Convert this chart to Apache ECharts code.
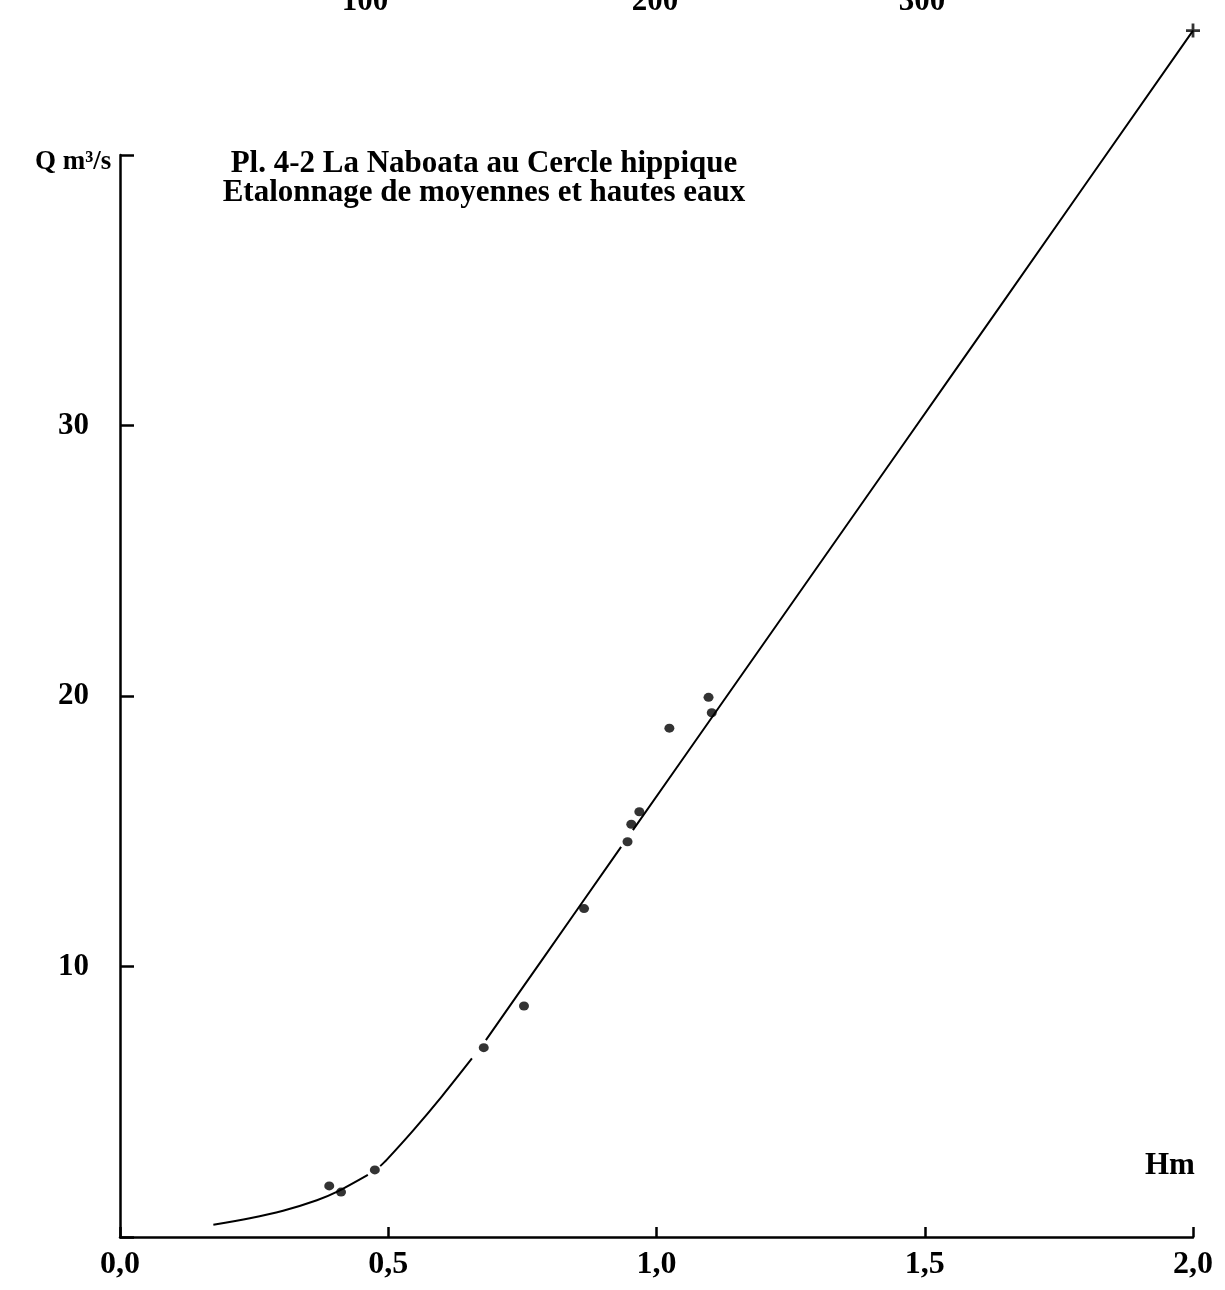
<!DOCTYPE html>
<html>
<head>
<meta charset="utf-8">
<script src="https://cdn.jsdelivr.net/npm/echarts@6/dist/echarts.min.js"></script>
<style>
html,body{margin:0;padding:0;background:#fff;}
#chart{width:1225px;height:1290px;}
</style>
</head>
<body>
<div id="chart"></div>
<script>
// Tick values
const xTicks = [0, 0.5, 1.0, 1.5, 2.0];
const yTicks = [0, 10, 20, 30, 40];
const topPartialLabels = ['100', '200', '300'];

// Measured gaugings (H m, Q m3/s)
const gaugings = [
  [0.390, 1.89], [0.412, 1.66], [0.475, 2.48], [0.678, 7.00],
  [0.753, 8.54], [0.865, 12.14], [0.946, 14.61], [0.953, 15.26],
  [0.968, 15.72], [1.024, 18.81], [1.097, 19.95], [1.103, 19.38]
];

// Rating curve, drawn in pieces (gaps as in the original)
const curve1 = [[0.174, 0.45], [0.242, 0.69], [0.304, 0.97], [0.367, 1.36], [0.404, 1.67], [0.462, 2.30]];
const curve2 = [[0.485, 2.62], [0.497, 2.85], [0.547, 3.95], [0.600, 5.20], [0.656, 6.60]];
const curve3 = [[0.682, 7.28], [0.790, 10.34], [0.934, 14.42]];
const curve4 = [[0.956, 15.04], [1.109, 19.37], [1.454, 29.13], [1.643, 34.48], [2.0, 44.6]];

const serif = '"Liberation Serif", "DejaVu Serif", serif';
const fmtX = v => v.toFixed(1).replace('.', ',');

const chart = echarts.init(document.getElementById('chart'), null, {renderer: 'canvas'});

function curveSeries(d) {
  return {
    type: 'line', data: d, showSymbol: false, symbol: 'none', smooth: 0.3, clip: false,
    lineStyle: {color: '#000', width: 2}, silent: true, z: 2
  };
}

chart.setOption({
  animation: false,
  backgroundColor: '#fff',
  grid: {left: 120, right: 32, top: 155, bottom: 53},
  xAxis: {
    type: 'value', min: 0, max: 2, interval: 0.5,
    axisLine: {show: true, onZero: false, lineStyle: {color: '#000', width: 2.5}},
    axisTick: {show: true, inside: true, length: 10, lineStyle: {color: '#000', width: 2.5}},
    splitLine: {show: false},
    axisLabel: {
      margin: 12, color: '#000', fontFamily: serif, fontWeight: 'bold', fontSize: 32,
      formatter: fmtX, showMinLabel: true, showMaxLabel: true
    }
  },
  yAxis: {
    type: 'value', min: 0, max: 40, interval: 10,
    axisLine: {show: true, onZero: false, lineStyle: {color: '#000', width: 2.5}},
    axisTick: {show: true, inside: true, length: 14, lineStyle: {color: '#000', width: 2.5}},
    splitLine: {show: false},
    axisLabel: {
      margin: 31, color: '#000', fontFamily: serif, fontWeight: 'bold', fontSize: 31,
      formatter: v => (v === 0 || v === 40) ? '' : String(v)
    }
  },
  series: [
    curveSeries(curve1), curveSeries(curve2), curveSeries(curve3), curveSeries(curve4),
    {
      type: 'scatter', data: gaugings, symbol: 'circle', symbolSize: [10, 9],
      itemStyle: {color: '#000'}, z: 3
    },
    {
      type: 'scatter', data: [curve4[curve4.length - 1]], clip: false,
      symbol: 'path://M4,0H6V4H10V6H6V10H4V6H0V4H4Z', symbolSize: 14,
      itemStyle: {color: '#000'}, z: 3
    }
  ],
  graphic: [
    {type: 'text', left: 35, top: 149, style: {text: 'Q m³/s', font: 'bold 27px ' + serif, fill: '#000'}},
    {type: 'text', left: 1145, top: 1150, style: {text: 'Hm', font: 'bold 31px ' + serif, fill: '#000'}},
    {type: 'text', x: 484, y: 149, style: {
      text: 'Pl. 4-2 La Naboata au Cercle hippique\nEtalonnage de moyennes et hautes eaux',
      font: 'bold 31px ' + serif, fill: '#000', align: 'center', lineHeight: 29
    }},
    {type: 'text', x: 365, y: 17, style: {text: topPartialLabels[0], font: 'bold 31px ' + serif, fill: '#000', align: 'center', verticalAlign: 'bottom'}},
    {type: 'text', x: 655, y: 17, style: {text: topPartialLabels[1], font: 'bold 31px ' + serif, fill: '#000', align: 'center', verticalAlign: 'bottom'}},
    {type: 'text', x: 922, y: 17, style: {text: topPartialLabels[2], font: 'bold 31px ' + serif, fill: '#000', align: 'center', verticalAlign: 'bottom'}}
  ]
});
</script>
</body>
</html>
